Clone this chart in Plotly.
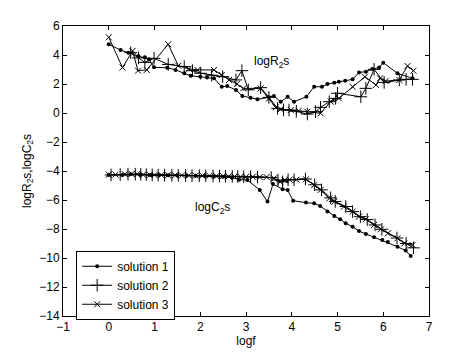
import plotly.graph_objects as go

# ---- data ----
s1_R_x = [0, 0.26, 0.43, 0.65, 0.79, 0.88, 0.99, 1.28, 1.46, 1.65, 1.79, 2.0, 2.15, 2.30, 2.47, 2.59, 2.78, 2.92, 3.10, 3.25,
          3.50, 3.61, 3.76, 3.91, 4.05, 4.32, 4.49, 4.66, 4.78, 4.93, 5.03, 5.17, 5.33, 5.47, 5.62, 5.76, 5.91, 6.0, 6.31, 6.64]
s1_R_y = [4.74, 4.34, 4.15, 3.93, 3.84, 3.7, 3.15, 3.12, 2.97, 2.74, 2.57, 2.5, 2.45, 2.39, 1.81, 1.86, 1.59, 1.17, 1.05, 0.94,
          1.08, 1.17, 0.78, 1.12, 0.78, 1.12, 1.81, 1.81, 2.0, 2.09, 2.16, 2.23, 2.32, 2.80, 2.85, 3.03, 3.13, 3.47, 2.74, 2.39]

s2_R_x = [0.48, 0.65, 0.79, 0.99, 1.30, 1.65, 1.83, 2.01, 2.25, 2.49, 2.78, 2.91, 3.05, 3.32, 3.50, 3.69, 3.82, 3.94, 4.10, 4.34,
          4.52, 4.63, 4.82, 4.96, 5.0, 5.51, 5.62, 5.80, 6.02, 6.35, 6.50, 6.64]
s2_R_y = [4.16, 3.8, 3.49, 3.77, 3.35, 3.2, 2.92, 2.74, 2.6, 2.51, 2.28, 2.92, 1.6, 1.75, 1.08, 0.32, 0.21, 0.21, 0.12, -0.07,
          0.09, 0.39, 0.78, 1.01, 1.36, 1.12, 1.70, 3.01, 2.11, 2.28, 2.32, 2.32]

s3_R_x = [0, 0.3, 0.52, 0.64, 0.83, 1.30, 1.52, 1.75, 1.94, 2.30, 2.47, 2.63, 2.80, 2.94, 3.32, 3.50, 3.65, 3.76, 3.98, 4.15,
          4.34, 4.63, 4.85, 5.03, 5.33, 5.60, 5.84, 5.93, 6.05, 6.35, 6.53, 6.66]
s3_R_y = [5.22, 3.13, 4.28, 2.92, 2.97, 4.74, 3.26, 3.05, 2.97, 2.97, 2.62, 2.28, 2.0, 1.70, 1.70, 1.0, 0.39, 0.26, 0.21, 0.15,
          0.09, -0.02, 0.78, 1.01, 1.81, 2.5, 1.93, 2.39, 2.2, 2.28, 3.24, 2.92]

s1_C_x = [0, 0.3, 0.48, 0.7, 0.9, 1.1, 1.3, 1.5, 1.7, 1.9, 2.1, 2.3, 2.5, 2.7, 2.85, 3.03, 3.30, 3.47, 3.59, 3.80,
          3.91, 4.03, 4.31, 4.49, 4.62, 4.78, 4.93, 5.06, 5.18, 5.33, 5.47, 5.62, 5.80, 5.98, 6.1, 6.31, 6.49, 6.60]
s1_C_y = [-4.28, -4.27, -4.22, -4.25, -4.28, -4.28, -4.3, -4.3, -4.32, -4.33, -4.35, -4.37, -4.4, -4.45, -4.6, -4.62, -5.31, -6.11, -4.90, -5.26,
          -5.31, -6.05, -6.18, -6.23, -6.41, -6.80, -7.10, -7.33, -7.61, -7.84, -8.14, -8.34, -8.57, -8.76, -8.9, -9.22, -9.49, -9.86]

s2_C_x = [0.05, 0.25, 0.42, 0.58, 0.7, 0.82, 0.95, 1.08, 1.22, 1.38, 1.52, 1.68, 1.82, 1.98, 2.12, 2.28, 2.42, 2.55, 2.7, 2.82,
          2.95, 3.1, 3.25, 3.55, 3.7, 3.8, 3.92, 4.05, 4.3, 4.5, 4.65, 4.85, 4.95, 5.18, 5.33, 5.5, 5.65, 5.82, 5.97, 6.3, 6.5, 6.66]
s2_C_y = [-4.27, -4.25, -4.22, -4.22, -4.23, -4.25, -4.27, -4.28, -4.28, -4.29, -4.3, -4.31, -4.32, -4.32, -4.33, -4.34, -4.35, -4.36, -4.37, -4.38,
          -4.39, -4.4, -4.42, -4.45, -4.62, -4.75, -4.6, -4.6, -4.55, -4.95, -5.3, -5.85, -6.1, -6.45, -6.8, -7.15, -7.35, -7.72, -8.02, -8.62, -9.0, -9.3]

s3_C_x = [0, 0.15, 0.35, 0.5, 0.62, 0.75, 0.9, 1.0, 1.15, 1.3, 1.45, 1.6, 1.75, 1.9, 2.05, 2.2, 2.35, 2.5, 2.62, 2.75,
          2.88, 3.0, 3.15, 3.3, 3.45, 3.61, 3.75, 3.85, 3.95, 4.1, 4.31, 4.49, 4.63, 4.82, 4.93, 5.14, 5.33, 5.47, 5.62, 5.80,
          5.95, 6.1, 6.31, 6.46, 6.64]
s3_C_y = [-4.25, -4.25, -4.22, -4.2, -4.22, -4.25, -4.27, -4.27, -4.28, -4.28, -4.3, -4.3, -4.3, -4.32, -4.32, -4.33, -4.35, -4.35, -4.37, -4.38,
          -4.4, -4.4, -4.4, -4.42, -4.42, -4.5, -4.75, -4.62, -4.6, -4.6, -4.57, -4.97, -5.31, -5.89, -6.11, -6.46, -6.80, -7.15, -7.33, -7.72,
          -8.02, -8.3, -8.64, -8.99, -9.1]

series_names = ["solution 1", "solution 2", "solution 3"]
x_ticks = [-1, 0, 1, 2, 3, 4, 5, 6, 7]
y_ticks = [-14, -12, -10, -8, -6, -4, -2, 0, 2, 4, 6]

FONT = "Liberation Sans, Arial, sans-serif"

fig = go.Figure()

styles = [
    dict(symbol="circle", size=4, color="black", line=dict(width=0)),
    dict(symbol="cross-thin", size=9, color="black", line=dict(width=1, color="black")),
    dict(symbol="x-thin", size=6, color="black", line=dict(width=1, color="black")),
]
data = [
    (s1_R_x, s1_R_y, s1_C_x, s1_C_y),
    (s2_R_x, s2_R_y, s2_C_x, s2_C_y),
    (s3_R_x, s3_R_y, s3_C_x, s3_C_y),
]
for name, mk, (rx, ry, cx, cy) in zip(series_names, styles, data):
    fig.add_trace(go.Scatter(
        x=rx + [None] + cx, y=ry + [None] + cy, name=name,
        mode="lines+markers", connectgaps=False,
        line=dict(color="black", width=1), marker=mk,
    ))

fig.add_annotation(x=3.55, y=3.55, text="logR<sub>2</sub>s", showarrow=False,
                   font=dict(family=FONT, size=12, color="black"))
fig.add_annotation(x=2.27, y=-6.55, text="logC<sub>2</sub>s", showarrow=False,
                   font=dict(family=FONT, size=12, color="black"))

axis_common = dict(showgrid=False, zeroline=False, showline=True, linecolor="black", linewidth=1,
                   mirror="allticks", ticks="inside", ticklen=4, tickcolor="black", automargin=False,
                   tickfont=dict(family=FONT, size=12, color="black"))

# the page body has an 8px default margin, so the figure is drawn 8px in from the window edge
fig.update_layout(
    width=466, height=347,
    margin=dict(l=55, r=45, t=18, b=39),
    paper_bgcolor="white", plot_bgcolor="white",
    font=dict(family=FONT, size=12, color="black"),
    xaxis=dict(range=[-1, 7], tickvals=x_ticks, title=dict(text="logf", standoff=3,
               font=dict(family=FONT, size=12)), **axis_common),
    yaxis=dict(range=[-14, 6], tickvals=y_ticks, title=dict(text="logR<sub>2</sub>s,logC<sub>2</sub>s", standoff=5,
               font=dict(family=FONT, size=12)), **axis_common),
    legend=dict(x=0.036, y=0.225, xanchor="left", yanchor="top", bgcolor="white",
                bordercolor="black", borderwidth=1, font=dict(family=FONT, size=12),
                tracegroupgap=0, itemwidth=30),
    showlegend=True,
)

fig.write_html("out.html")
